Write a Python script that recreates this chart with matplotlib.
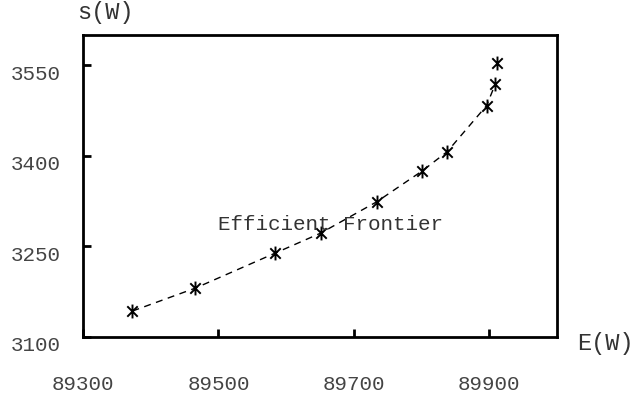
import matplotlib
matplotlib.use("Agg")
import matplotlib.pyplot as plt
import matplotlib.transforms as mtransforms
from matplotlib.path import Path

# Efficient frontier points
e_vals = [89373, 89466, 89584, 89651, 89734, 89801, 89838, 89896, 89909, 89912]
s_vals = [3143, 3181, 3239, 3272, 3324, 3375, 3407, 3483, 3519, 3554]
x_ticks = [89300, 89500, 89700, 89900]
y_ticks = [3100, 3250, 3400, 3550]

plt.rcParams['font.family'] = ['Liberation Mono', 'DejaVu Sans Mono']

# star marker: vertical bar plus an X
d = 0.75
star = Path([(0, -1), (0, 1), (-d, -d), (d, d), (-d, d), (d, -d)],
            [Path.MOVETO, Path.LINETO] * 3)

fig = plt.figure(figsize=(6.34, 4.0), dpi=100)
ax = fig.add_axes([0.131, 0.1575, 0.7475, 0.755])

# dashed curve through the frontier (stops before the top point)
ax.plot(e_vals[:-1], s_vals[:-1], color='black', lw=1.0, ls=(0, (5, 4)))
ax.plot(e_vals, s_vals, ls='none', marker=star, ms=10, mew=1.4,
        color='black')

ax.set_xlim(89300, 90000)
ax.set_ylim(3100, 3600)
ax.set_xticks(x_ticks)
ax.set_yticks(y_ticks)

for sp in ax.spines.values():
    sp.set_linewidth(2.0)
    sp.set_color('black')

ax.tick_params(direction='in', length=6, width=2, colors='black',
               labelcolor='#444444', labelsize=15)
ax.tick_params(axis='x', pad=27)
ax.tick_params(axis='y', pad=16)

# nudge y labels a little down like the original
off = mtransforms.ScaledTranslation(0, -5 / 72, fig.dpi_scale_trans)
for lab in ax.get_yticklabels():
    lab.set_transform(lab.get_transform() + off)

ax.text(89500, 3287, 'Efficient Frontier', fontsize=15, color='#333333',
        va='center', ha='left')

fig.text(0.121, 0.968, 's(W)', fontsize=17, color='#333333', va='center', ha='left')
fig.text(0.91, 0.142, 'E(W)', fontsize=17, color='#333333', va='center', ha='left')

plt.savefig('out.png', dpi=100)
